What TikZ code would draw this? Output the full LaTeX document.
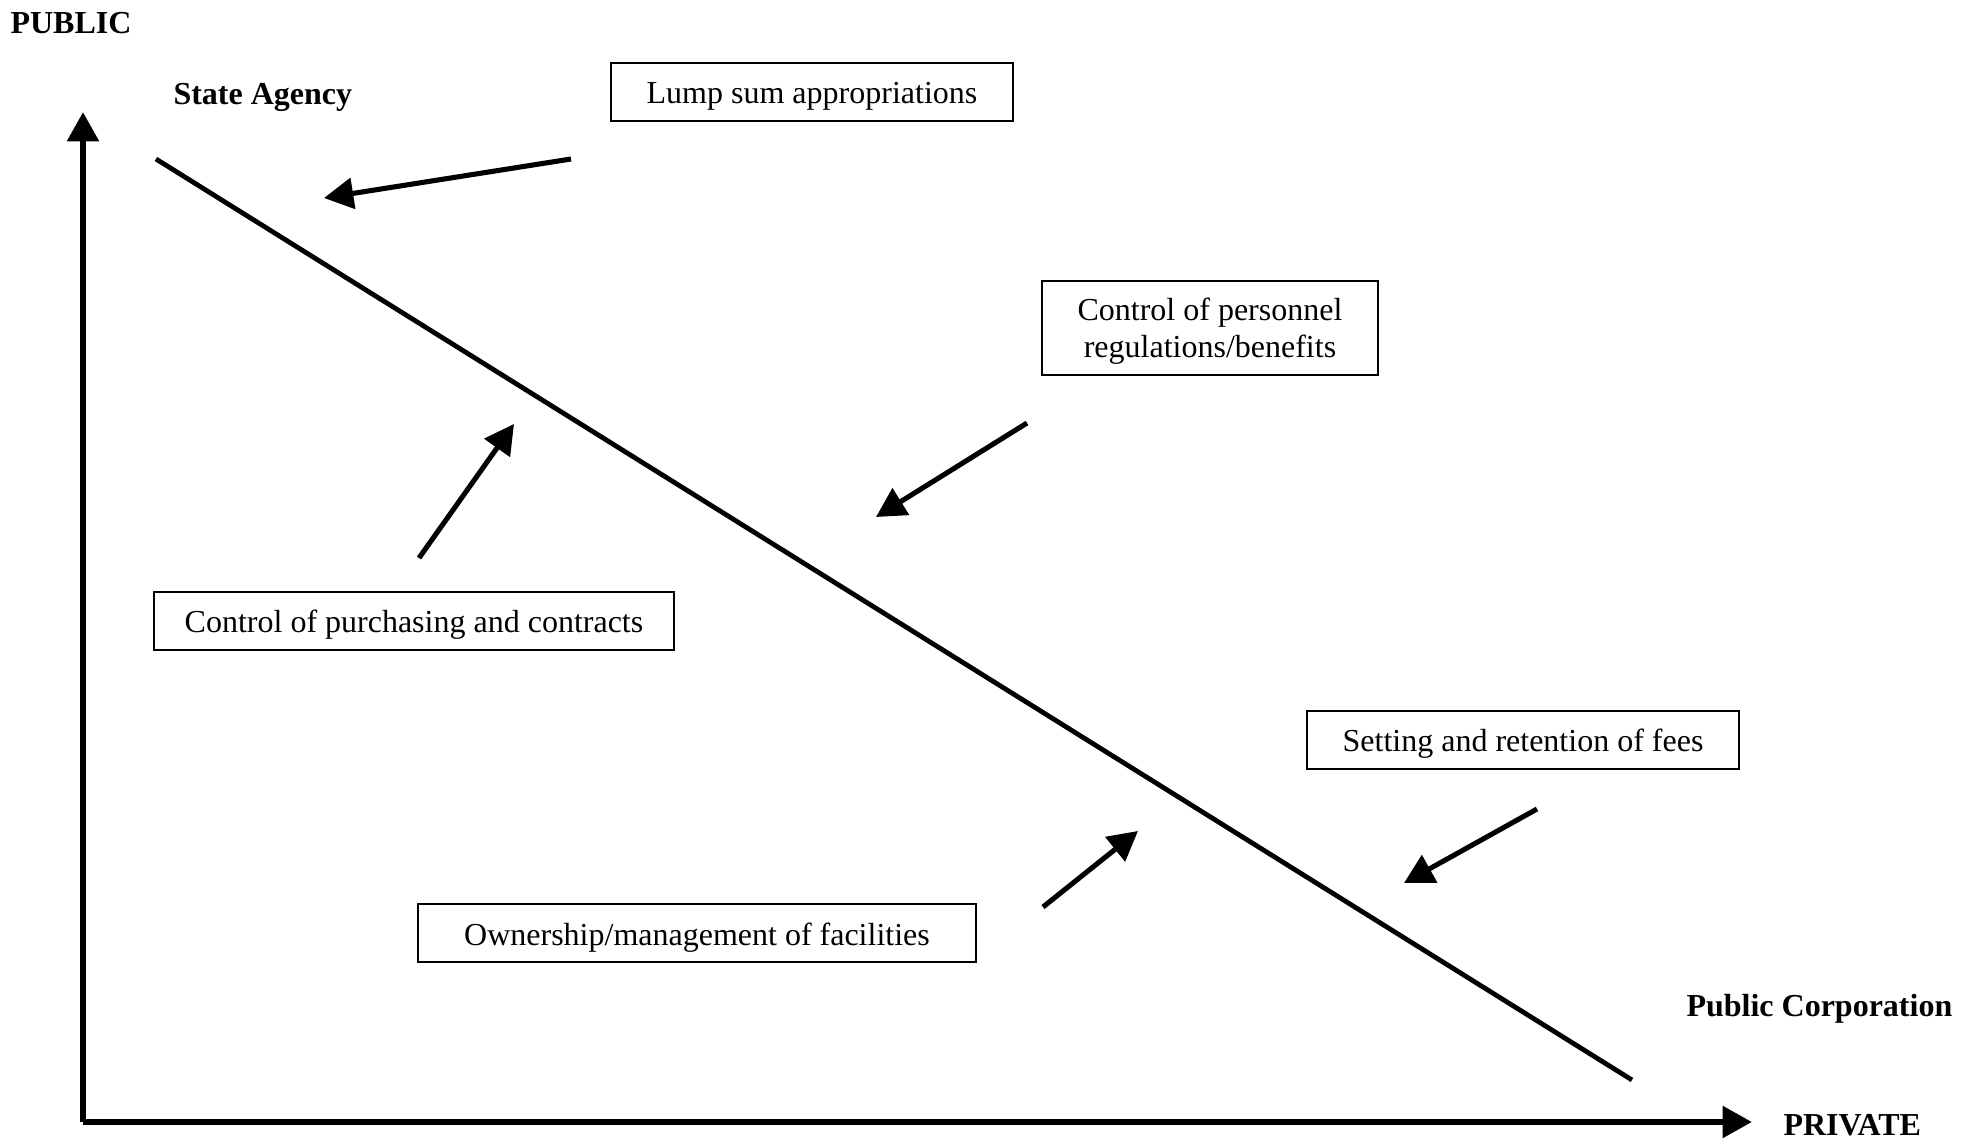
\documentclass[tikz,border=0pt]{standalone}
\usepackage{fontspec}
\setmainfont{Liberation Serif}
\usetikzlibrary{arrows.meta}
\tikzstyle{box} = [rectangle, 
draw=black, 
line width=0.8pt, 
minimum height=21.5pt, 
inner sep=0pt, 
text centered, 
text height=9pt, 
text depth=0pt, 
font=\fontsize{12}{14}\selectfont]
\tikzstyle{corner} = [anchor=west, inner sep=0pt, text height=7.9pt, text depth=0pt, font=\bfseries\fontsize{12}{14}\selectfont]
\tikzstyle{axis} = [line width=2.4pt,-{Stealth[inset=0pt,length=11pt,width=11.5pt]}]
\tikzstyle{arrow} = [line width=1.9pt,-{Stealth[inset=0pt,length=11pt,width=11.5pt]}]

\begin{document}
\begin{tikzpicture}[x=0.375pt,y=-0.375pt]
\useasboundingbox (0,0) rectangle (1969,1140);

% axes
\coordinate (O) at (83,1122);
\coordinate (top) at (83,112);
\coordinate (right) at (1752,1122);
\draw [axis] (O) -- (top);
\draw [axis] (O) -- (right);
\node (public) [corner] at (10,23) {PUBLIC};
\node (private) [corner] at (1783,1125) {PRIVATE};

% the line
\coordinate (sa) at (156,159);
\coordinate (pc) at (1632,1080);
\draw [line width=1.8pt] (sa) -- (pc);
\node (agency) [corner] at (173,94) {State Agency};
\node (corp) [corner] at (1686,1006) {Public Corporation};

% boxes
\node (lump) [box, minimum width=151pt] at (812,92) {Lump sum appropriations};
\node (pers) [box, minimum width=126pt, minimum height=35.5pt, text height=, align=center] at (1210,328) {Control of personnel\\regulations/benefits};
\node (purch) [box, minimum width=195pt] at (414,621) {Control of purchasing and contracts};
\node (fees) [box, minimum width=162pt] at (1523,740) {Setting and retention of fees};
\node (own) [box, minimum width=209pt] at (697,933) {Ownership/management of facilities};

% arrows
\coordinate (lump1) at (571,159);
\coordinate (lump2) at (324,198);
\coordinate (pers1) at (1027,423);
\coordinate (pers2) at (876,517);
\coordinate (purch1) at (419,558);
\coordinate (purch2) at (514,424);
\coordinate (fees1) at (1537,809);
\coordinate (fees2) at (1404,883);
\coordinate (own1) at (1043,907);
\coordinate (own2) at (1138,831);
\draw [arrow] (lump1) -- (lump2);
\draw [arrow] (pers1) -- (pers2);
\draw [arrow] (purch1) -- (purch2);
\draw [arrow] (fees1) -- (fees2);
\draw [arrow] (own1) -- (own2);

\end{tikzpicture}
\end{document}
